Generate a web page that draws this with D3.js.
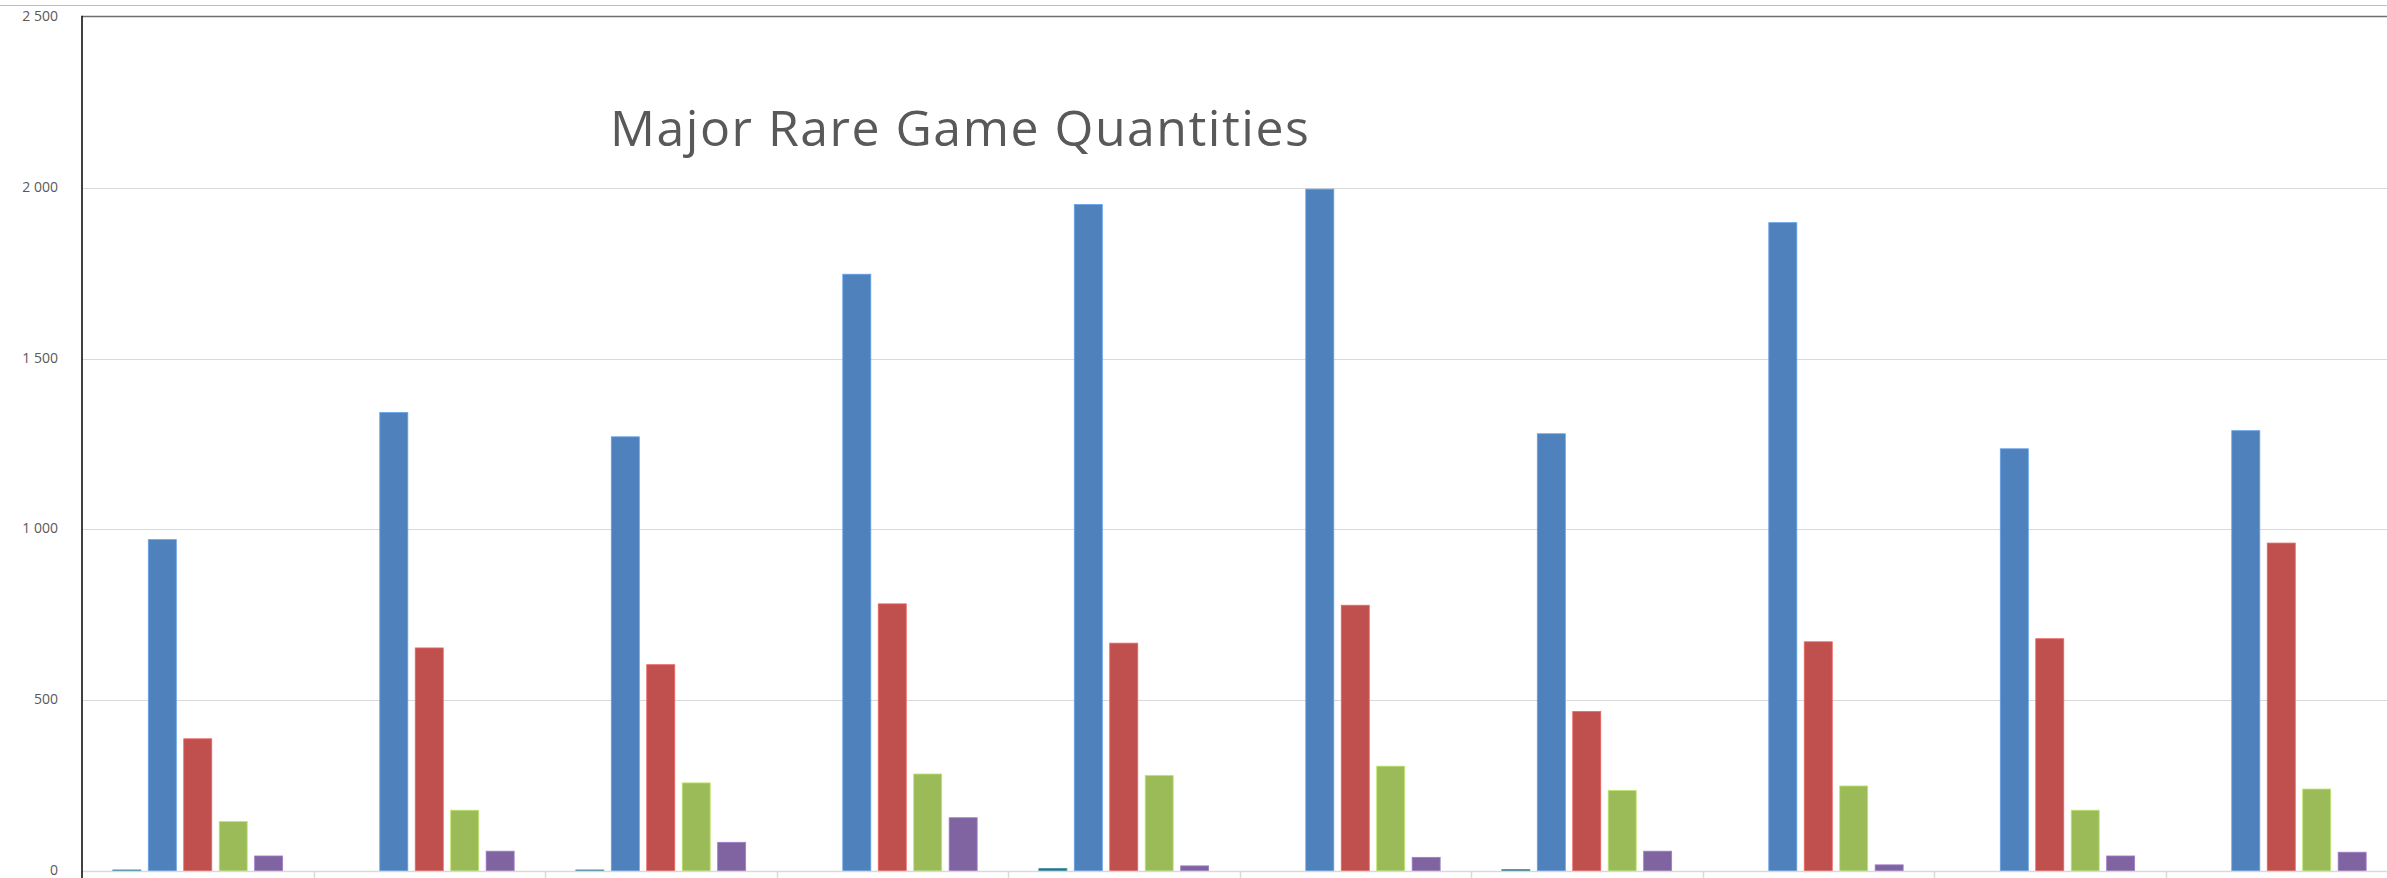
<!DOCTYPE html>
<html>
<head>
<meta charset="utf-8">
<script src="https://cdn.jsdelivr.net/npm/d3@7/dist/d3.min.js"></script>
<style>
  html, body { margin: 0; padding: 0; background: #ffffff; overflow: hidden; }
  svg { display: block; }
</style>
</head>
<body>
<div id="chart"></div>
<script>
// Chart data
const categories = ["1", "2", "3", "4", "5", "6", "7", "8", "9", "10"];
const seriesNames = ["Series 1", "Series 2", "Series 3", "Series 4", "Series 5"];
const seriesColors = ["#2E7386", "#4F81BD", "#C0504D", "#9BBB59", "#8064A2"];

const series1 = [3, 0, 3, 0, 7, 0, 4, 0, 0, 0];
const series2 = [970, 1342, 1271, 1747, 1951, 1996, 1280, 1898, 1236, 1289];
const series3 = [387, 653, 604, 782, 667, 778, 467, 671, 680, 960];
const series4 = [145, 178, 258, 284, 280, 307, 236, 249, 178, 240];
const series5 = [44, 58, 84, 156, 15, 40, 58, 18, 44, 55];

const yTicks = [0, 500, 1000, 1500, 2000, 2500];
const chartTitle = "Major Rare Game Quantities";

const allSeries = [series1, series2, series3, series4, series5];

const WIDTH = 2387;
const HEIGHT = 878;
const PLOT = { left: 82, right: 2397, top: 17, bottom: 871 };

const svg = d3
  .select("#chart")
  .append("svg")
  .attr("width", WIDTH)
  .attr("height", HEIGHT);

const x0 = d3
  .scaleBand()
  .domain(categories)
  .range([PLOT.left, PLOT.right])
  .padding(0);

const x1 = d3
  .scaleBand()
  .domain(seriesNames)
  .range([0, x0.bandwidth()])
  .paddingInner(0.21)
  .paddingOuter(0.87);

const y = d3.scaleLinear([0, 2500], [PLOT.bottom, PLOT.top]);

const fmt = d3.formatLocale({ decimal: ".", thousands: " ", grouping: [3], currency: ["", ""] }).format(",");

// outer chart border line
svg.append("line")
  .attr("x1", 0).attr("x2", WIDTH)
  .attr("y1", 5.5).attr("y2", 5.5)
  .attr("stroke", "#bfbfbf")
  .attr("stroke-width", 1);

// gridlines
svg.append("g")
  .selectAll("line")
  .data(yTicks.filter((t) => t > 0 && t < 2500))
  .enter()
  .append("line")
  .attr("x1", PLOT.left)
  .attr("x2", WIDTH)
  .attr("y1", (d) => Math.round(y(d)) + 0.5)
  .attr("y2", (d) => Math.round(y(d)) + 0.5)
  .attr("stroke", "#d9d9d9")
  .attr("stroke-width", 1);

// y axis labels
const yAxis = svg.append("g")
  .attr("transform", `translate(${PLOT.left - 24},0)`)
  .call(d3.axisLeft(y).tickValues(yTicks).tickFormat(fmt).tickSize(0).tickPadding(0));
yAxis.select(".domain").remove();
yAxis.selectAll("text")
  .attr("dy", "0.25em")
  .style("font-family", "'Open Sans', sans-serif")
  .style("font-size", "14px")
  .style("fill", "#595959");

// bars
const groups = svg.append("g")
  .selectAll("g")
  .data(categories)
  .enter()
  .append("g")
  .attr("transform", (d) => `translate(${x0(d)},0)`);

groups.selectAll("rect")
  .data((d, i) => allSeries.map((s, k) => ({ name: seriesNames[k], value: s[i], color: seriesColors[k] })))
  .enter()
  .append("rect")
  .attr("x", (d) => x1(d.name))
  .attr("width", x1.bandwidth())
  .attr("y", (d) => y(d.value))
  .attr("height", (d) => y(0) - y(d.value))
  .attr("fill", (d) => d.color)
  .attr("stroke", (d) => d3.color(d.color).brighter(0.6))
  .attr("stroke-width", 0.8);

// x axis (baseline + category ticks, no labels)
const xAxis = svg.append("g")
  .attr("transform", `translate(0,${PLOT.bottom + 0.5})`);
xAxis.append("line")
  .attr("x1", PLOT.left).attr("x2", WIDTH)
  .attr("stroke", "#d9d9d9")
  .attr("stroke-width", 1.5);
xAxis.selectAll(".tick")
  .data(categories.slice(1))
  .enter()
  .append("line")
  .attr("class", "tick")
  .attr("x1", (d) => Math.round(x0(d)) + 0.5)
  .attr("x2", (d) => Math.round(x0(d)) + 0.5)
  .attr("y1", 0)
  .attr("y2", 7)
  .attr("stroke", "#d9d9d9")
  .attr("stroke-width", 1.5);

// frame: top and left
svg.append("line")
  .attr("x1", PLOT.left).attr("x2", WIDTH)
  .attr("y1", PLOT.top - 0.5).attr("y2", PLOT.top - 0.5)
  .attr("stroke", "#6f6f6f")
  .attr("stroke-width", 1.5);
svg.append("line")
  .attr("x1", PLOT.left).attr("x2", PLOT.left)
  .attr("y1", PLOT.top - 1.2).attr("y2", PLOT.bottom + 7)
  .attr("stroke", "#111111")
  .attr("stroke-width", 1.6);

// title
svg.append("text")
  .attr("x", 610)
  .attr("y", 146)
  .text(chartTitle)
  .style("font-family", "'Open Sans', sans-serif")
  .style("font-size", "50px")
  .style("letter-spacing", "1.5px")
  .style("fill", "#595959");
</script>
</body>
</html>
